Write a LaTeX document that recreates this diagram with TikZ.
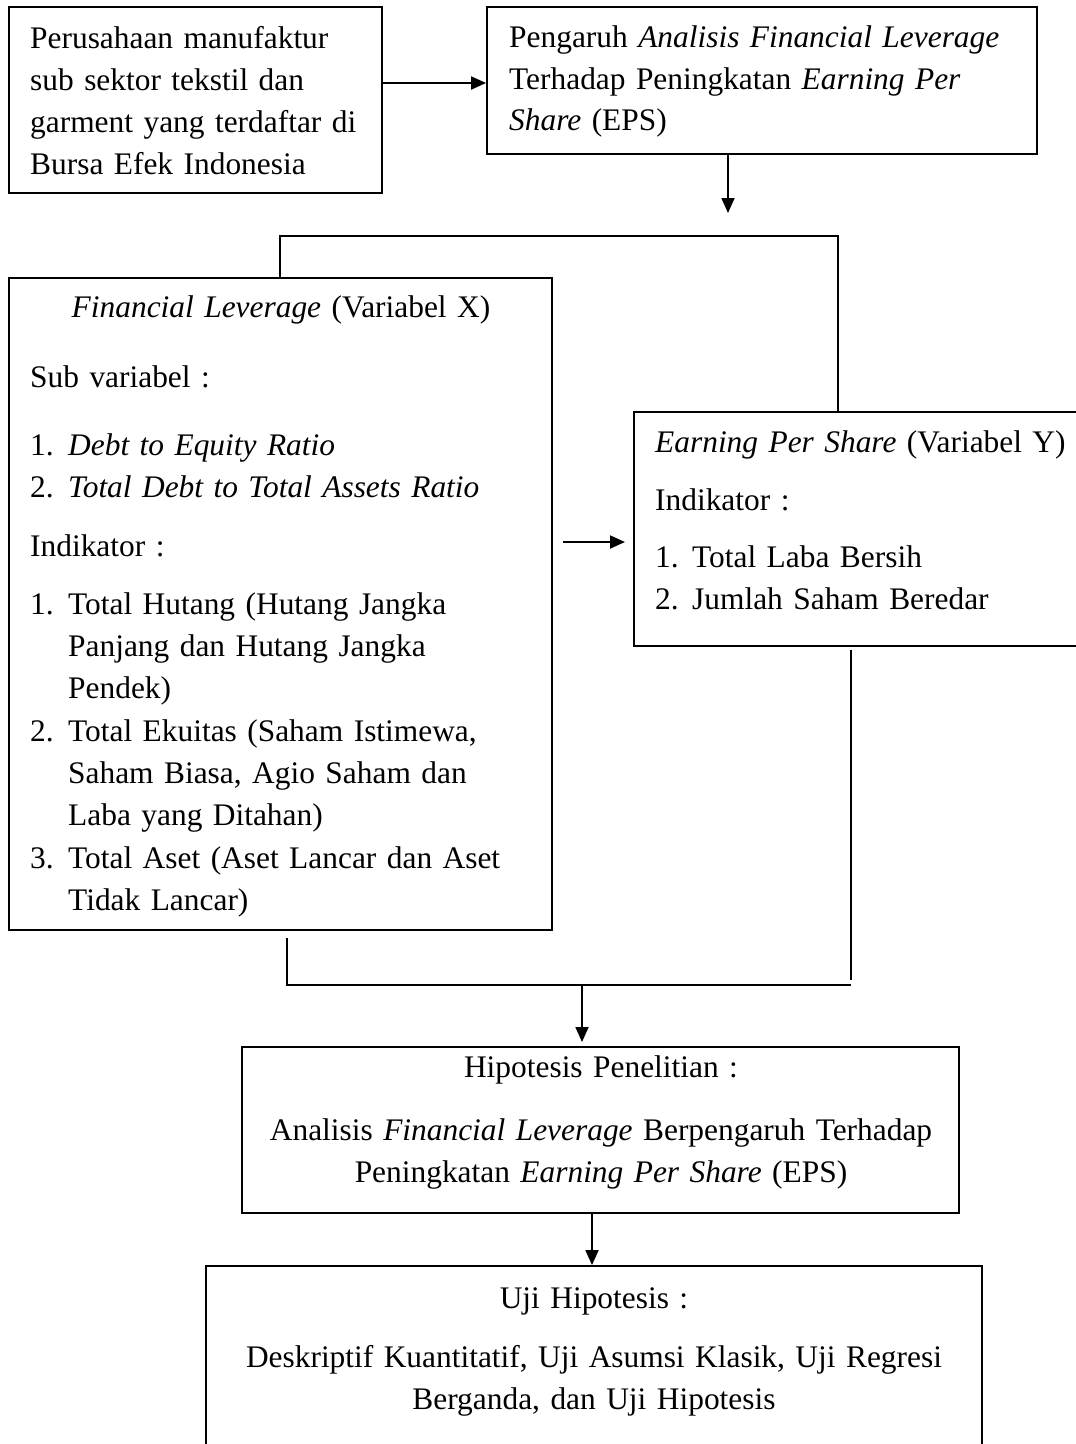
\documentclass[tikz,border=0pt]{standalone}
\usepackage{fontspec}
\setmainfont{Liberation Serif}
\usetikzlibrary{arrows.meta}
\begin{document}
\begin{tikzpicture}[x=1pt,y=-1pt,
  box/.style={draw, line width=1.8pt, inner sep=0pt},
  txt/.style={inner sep=0pt, anchor=base west, text width=#1, align=left,
    font=\fontsize{31.4}{42.3}\selectfont},
  ctxt/.style={inner sep=0pt, anchor=base, text width=#1, align=center,
    font=\fontsize{31.4}{42.3}\selectfont},
  link/.style={line width=1.8pt},
  arr/.style={line width=1.8pt, -{Triangle[length=15pt,width=13pt]}}]
\useasboundingbox (0,0) rectangle (1076,1444);
% boxes
\node[box, minimum width=373, minimum height=186] (b1) at (195.5,100) {};
\node[box, minimum width=550, minimum height=147] (b2) at (762,80.5) {};
\node[box, minimum width=543, minimum height=652] (bx) at (280.5,604) {};
\node[box, minimum width=466, minimum height=234] (by) at (867,529) {};
\node[box, minimum width=717, minimum height=166] (hip) at (600.5,1130) {};
\node[box, minimum width=776, minimum height=210] (uji) at (594,1371) {};
% texts
\node[txt=350] (t1) at (30,48) {Perusahaan manufaktur\\sub sektor tekstil dan\\garment yang terdaftar di\\Bursa Efek Indonesia};
\node[txt=525] (t2) at (509,47) {Pengaruh \textit{Analisis Financial Leverage}\\Terhadap Peningkatan \textit{Earning Per}\\[-1.3pt]\textit{Share} (EPS)};
\node[ctxt=520] (tx0) at (281,317) {\textit{Financial Leverage} (Variabel X)};
\node[txt=520] (tx) at (30,387) {Sub variabel :\\[25.7pt]
\makebox[38pt][l]{1.}\textit{Debt to Equity Ratio}\\
\makebox[38pt][l]{2.}\textit{Total Debt to Total Assets Ratio}\\[16.7pt]
Indikator :\\[15.7pt]
\makebox[38pt][l]{1.}Total Hutang (Hutang Jangka\\
\hspace*{38pt}Panjang dan Hutang Jangka\\
\hspace*{38pt}Pendek)\\
\makebox[38pt][l]{2.}Total Ekuitas (Saham Istimewa,\\
\hspace*{38pt}Saham Biasa, Agio Saham dan\\
\hspace*{38pt}Laba yang Ditahan)\\
\makebox[38pt][l]{3.}Total Aset (Aset Lancar dan Aset\\
\hspace*{38pt}Tidak Lancar)};
\node[txt=440] (ty) at (655,452) {\textit{Earning Per Share} (Variabel Y)\\[15.7pt]
Indikator :\\[14.7pt]
\makebox[37pt][l]{1.}Total Laba Bersih\\
\makebox[37pt][l]{2.}Jumlah Saham Beredar};
\node[ctxt=700] (th) at (601,1077) {Hipotesis Penelitian :\\[20.7pt]
Analisis \textit{Financial Leverage} Berpengaruh Terhadap\\
Peningkatan \textit{Earning Per Share} (EPS)};
\node[ctxt=760] (tu) at (594,1308) {Uji Hipotesis :\\[16.7pt]
Deskriptif Kuantitatif, Uji Asumsi Klasik, Uji Regresi\\
Berganda, dan Uji Hipotesis};
% connectors
\draw[arr] (b1.east |- 0,83) -- (b2.west |- 0,83);
\coordinate (d1) at (728,213);
\draw[arr] (b2.south -| d1) -- (d1);
\coordinate (jL) at (280,236);
\coordinate (jR) at (838,236);
\draw[link] (bx.north -| jL) -- (jL) -- (jR) -- (by.north -| jR);
\coordinate (a1s) at (563,542);
\coordinate (a1e) at (625,542);
\draw[arr] (a1s) -- (a1e);
\coordinate (kL0) at (287,938);
\coordinate (kL) at (287,985);
\coordinate (kR0) at (851,650);
\coordinate (kR) at (851,980);
\coordinate (kR1) at (851,985);
\draw[link] (kL0) -- (kL) -- (kR1);
\draw[link] (kR0) -- (kR);
\coordinate (m1) at (582,985);
\coordinate (m1e) at (582,1042);
\draw[arr] (m1) -- (m1e);
\coordinate (m2) at (592,1213);
\draw[arr] (hip.south -| m2) -- (uji.north -| m2);
\end{tikzpicture}
\end{document}
